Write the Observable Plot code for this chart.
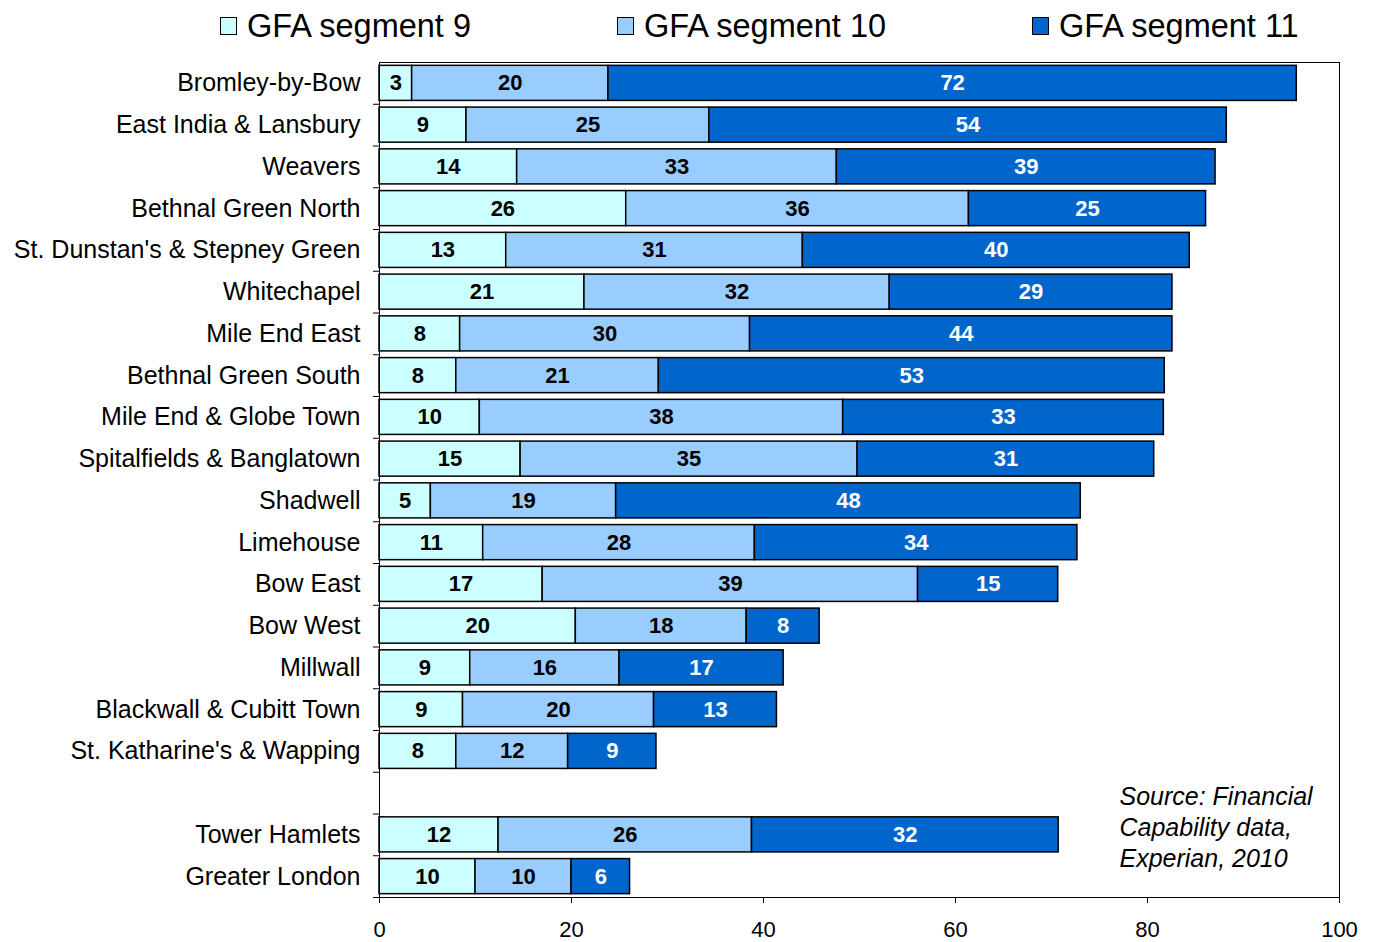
<!DOCTYPE html>
<html>
<head>
<meta charset="utf-8">
<script src="https://cdn.jsdelivr.net/npm/d3@7"></script>
<script src="https://cdn.jsdelivr.net/npm/@observablehq/plot@0.6"></script>
<style>
  body { margin: 0; background: #fff; font-family: "Liberation Sans", Arial, sans-serif; }
  #legend { position: relative; width: 1375px; height: 55px; }
  .item { position: absolute; top: 7px; height: 38px; display: flex; align-items: center; font-size: 32.5px; color: #000; }
  .sw { width: 15px; height: 16px; border: 1.5px solid #000; margin-right: 10px; }
</style>
</head>
<body>
<div id="legend"></div>
<div id="chart"></div>
<script>
const wards = ["Bromley-by-Bow", "East India & Lansbury", "Weavers", "Bethnal Green North",
  "St. Dunstan's & Stepney Green", "Whitechapel", "Mile End East", "Bethnal Green South",
  "Mile End & Globe Town", "Spitalfields & Banglatown", "Shadwell", "Limehouse", "Bow East",
  "Bow West", "Millwall", "Blackwall & Cubitt Town", "St. Katharine's & Wapping"];
const totals = ["Tower Hamlets", "Greater London"];
const spacer = " ";
const barRows = [...wards, ...totals];

const seg9  = [3.4, 9.06, 14.34, 25.7, 13.2, 21.35, 8.4, 8.0, 10.45, 14.7, 5.35, 10.8, 17.0, 20.45, 9.45, 8.7, 8.0, 12.4, 10.0];
const seg10 = [20.45, 25.3, 33.3, 35.7, 30.9, 31.8, 30.2, 21.1, 37.85, 35.1, 19.3, 28.3, 39.1, 17.8, 15.55, 19.9, 11.65, 26.4, 10.0];
const seg11 = [71.7, 53.9, 39.45, 24.7, 40.3, 29.45, 44.0, 52.7, 33.4, 30.9, 48.4, 33.6, 14.6, 7.6, 17.1, 12.8, 9.2, 31.95, 6.1];

const seriesNames = ["GFA segment 9", "GFA segment 10", "GFA segment 11"];
const seriesColors = ["#CCFFFF", "#99CCFF", "#0066CC"];
const xTicks = [0, 20, 40, 60, 80, 100];
const sourceText = "Source: Financial\nCapability data,\nExperian, 2010";

const seriesValues = [seg9, seg10, seg11];
const table = [];
seriesNames.forEach((s, si) => {
  barRows.forEach((r, ri) => table.push({row: r, series: s, value: seriesValues[si][ri]}));
});
const fmt = d3.format(".0f");

// legend
const legend = document.getElementById("legend");
const legendLeft = [220, 617, 1032];
seriesNames.forEach((s, i) => {
  const it = document.createElement("div");
  it.className = "item";
  it.style.left = legendLeft[i] + "px";
  const sw = document.createElement("div");
  sw.className = "sw";
  sw.style.background = seriesColors[i];
  const tx = document.createElement("span");
  tx.textContent = s;
  it.appendChild(sw); it.appendChild(tx);
  legend.appendChild(it);
});

const H = 887, mT = 7, mB = 45;
const domainY = [...wards, spacer, ...totals];
const step = (H - mT - mB) / domainY.length;

const font = "'Liberation Sans', Arial, sans-serif";
const chart = Plot.plot({
  width: 1375,
  height: H,
  marginTop: mT,
  marginBottom: mB,
  marginLeft: 379,
  marginRight: 36,
  x: {domain: [0, 100]},
  y: {domain: domainY, paddingInner: 0.16, paddingOuter: 0.08, round: false},
  color: {domain: seriesNames, range: seriesColors},
  style: {fontFamily: font, background: "white", color: "black"},
  marks: [
    Plot.barX(table, Plot.stackX({y: "row", x: "value", fill: "series", stroke: "black", strokeWidth: 1.5})),
    Plot.text(table, Plot.stackX({y: "row", x: "value", z: "series",
      text: d => d.series !== seriesNames[2] ? fmt(d.value) : null,
      fill: "black", fontWeight: "bold", fontSize: 22})),
    Plot.text(table, Plot.stackX({y: "row", x: "value", z: "series",
      text: d => d.series === seriesNames[2] ? fmt(d.value) : null,
      fill: "white", fontWeight: "bold", fontSize: 22})),
    Plot.axisY({tickSize: 0, tickPadding: 19, fontSize: 25, label: null}),
    Plot.axisY({tickSize: 6, text: null, dy: step / 2, label: null}),
    Plot.axisX({ticks: xTicks, tickSize: 6, tickPadding: 18, fontSize: 22, label: null, tickFormat: d => d}),
    Plot.frame({stroke: "black", strokeWidth: 1}),
    Plot.text([sourceText], {frameAnchor: "bottom-right", textAnchor: "start", lineAnchor: "middle",
      dx: -220, dy: -71, fontSize: 25, fontStyle: "italic", lineHeight: 1.24, fill: "black"})
  ]
});
document.getElementById("chart").appendChild(chart);
</script>
</body>
</html>
